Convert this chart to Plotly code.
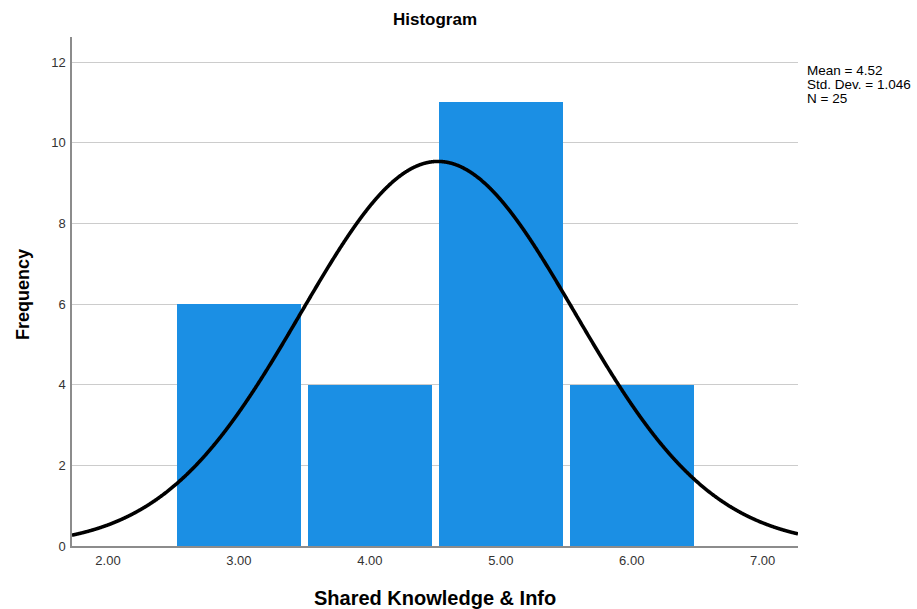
import numpy as np
import plotly.graph_objects as go

# Histogram data: bin centres and counts
bin_centers = [3.0, 4.0, 5.0, 6.0]
frequencies = [6, 4, 11, 4]
x_ticks = [2.0, 3.0, 4.0, 5.0, 6.0, 7.0]
x_tick_labels = ["2.00", "3.00", "4.00", "5.00", "6.00", "7.00"]
y_ticks = [0, 2, 4, 6, 8, 10, 12]

# Summary statistics
mean = 4.52
std_dev = 1.046
n = 25
bin_width = 1.0

X_RANGE = [1.725, 7.27]
Y_RANGE = [0, 12.62]

W, H = 917, 609
L, R, T, B = 72, 119, 37, 63
plot_w = W - L - R
plot_h = H - T - B

# Normal curve scaled to counts
xs = np.linspace(X_RANGE[0], X_RANGE[1], 1200)
ys = n * bin_width / (std_dev * np.sqrt(2 * np.pi)) * np.exp(-0.5 * ((xs - mean) / std_dev) ** 2)

fig = go.Figure()
fig.add_trace(go.Bar(
    x=bin_centers, y=frequencies, width=0.945,
    marker=dict(color="#1b8fe4", line=dict(width=0)),
    showlegend=False, hoverinfo="skip",
))
fig.add_trace(go.Scatter(
    x=xs, y=ys, mode="lines",
    line=dict(color="black", width=3.6, simplify=False, shape="spline", smoothing=0.6),
    showlegend=False, hoverinfo="skip",
))

fig.update_layout(
    width=W, height=H,
    margin=dict(l=L, r=R, t=T, b=B, autoexpand=False),
    plot_bgcolor="white", paper_bgcolor="white",
    font=dict(family="Liberation Sans, Arial, sans-serif", color="#222"),
    title=dict(text="<b>Histogram</b>", x=(L + plot_w / 2) / W, xanchor="center",
               y=1 - 19 / H, yanchor="middle", font=dict(size=17, color="black")),
    bargap=0,
)

fig.update_xaxes(
    range=X_RANGE, tickvals=x_ticks, ticktext=x_tick_labels,
    showgrid=False, zeroline=False, automargin=False,
    showline=True, linecolor="#8c8c8c", linewidth=1.5,
    ticks="outside", ticklen=2, tickcolor="rgba(0,0,0,0)",
    tickfont=dict(size=13, color="#333"),
)
fig.update_yaxes(
    range=Y_RANGE, tickvals=y_ticks,
    showgrid=True, gridcolor="#cccccc", gridwidth=1, zeroline=False, automargin=False,
    showline=True, linecolor="#8c8c8c", linewidth=1.5,
    ticks="outside", ticklen=2, tickcolor="rgba(0,0,0,0)",
    tickfont=dict(size=13, color="#333"),
)

# Axis titles
fig.add_annotation(
    xref="paper", yref="paper", x=0.5, y=-(598 - (T + plot_h)) / plot_h,
    xanchor="center", yanchor="middle", showarrow=False,
    text="<b>Shared Knowledge & Info</b>", font=dict(size=20, color="black"),
)
fig.add_annotation(
    xref="paper", yref="paper", x=-(L - 23) / plot_w, y=1 - (295 - T) / plot_h,
    xanchor="center", yanchor="middle", showarrow=False, textangle=-90,
    text="<b>Frequency</b>", font=dict(size=18, color="black"),
)

# Statistics box, one line per annotation
stats_lines = [f"Mean = {mean:.2f}", f"Std. Dev. = {std_dev:.3f}", f"N = {n}"]
for i, line in enumerate(stats_lines):
    fig.add_annotation(
        xref="paper", yref="paper", x=1 + 7 / plot_w, y=1 - (70 + 14.5 * i - T) / plot_h,
        xanchor="left", yanchor="middle", align="left", showarrow=False,
        text=line, font=dict(size=13.5, color="black"),
    )

fig.write_html("out.html")
